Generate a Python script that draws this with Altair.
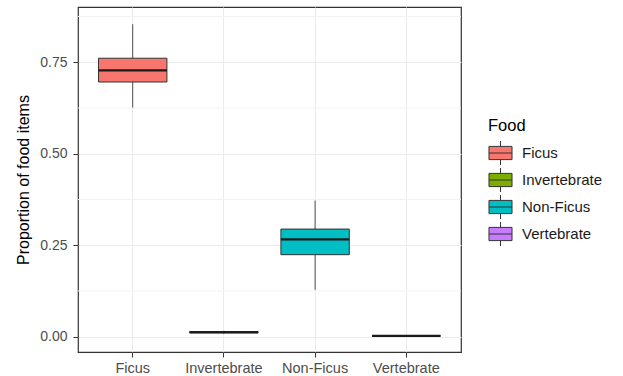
import altair as alt
import pandas as pd

# Box-plot summaries of the proportion of each food type in the diet
food = ["Ficus", "Invertebrate", "Non-Ficus", "Vertebrate"]
lower = [0.626, 0.008, 0.128, 0.002]
q1 = [0.696, 0.010, 0.224, 0.002]
median = [0.728, 0.012, 0.266, 0.002]
q3 = [0.761, 0.014, 0.294, 0.002]
upper = [0.854, 0.016, 0.372, 0.002]

fills = ["#F8766D", "#7CAE00", "#00BFC4", "#C77CFF"]
major_breaks = [0.0, 0.25, 0.5, 0.75]
minor_breaks = [0.125, 0.375, 0.625, 0.875]

df = pd.DataFrame(
    {"Food": food, "lower": lower, "q1": q1, "median": median, "q3": q3, "upper": upper}
)
minor_df = pd.DataFrame({"v": minor_breaks})

W, H = 383, 345
y_dom = [-0.042, 0.901]

x_enc = alt.X(
    "Food:N",
    sort=food,
    scale=alt.Scale(paddingInner=0, paddingOuter=0.1),
    axis=alt.Axis(
        title=None,
        labelAngle=0,
        grid=True,
        gridColor="#EBEBEB",
        gridWidth=1,
        domain=False,
        ticks=True,
        tickSize=5,
        tickColor="#333333",
        labelColor="#4D4D4D",
        labelFontSize=14.5,
        labelPadding=4,
        labelFont="Liberation Sans",
    ),
)

y_scale = alt.Scale(domain=y_dom, nice=False, zero=False)

minor = alt.Chart(minor_df).mark_rule(color="#F2F2F2", strokeWidth=1).encode(
    y=alt.Y("v:Q", scale=y_scale)
)

whisker = alt.Chart(df).mark_rule(color="#4D4D4D", strokeWidth=1).encode(
    x=x_enc,
    y=alt.Y(
        "lower:Q",
        scale=y_scale,
        title="Proportion of food items",
        axis=alt.Axis(
            values=major_breaks,
            format=".2f",
            grid=True,
            gridColor="#EBEBEB",
            gridWidth=1,
            domain=False,
            tickSize=5,
            tickColor="#333333",
            labelColor="#4D4D4D",
            labelFontSize=14,
            labelPadding=6,
            labelFont="Liberation Sans",
            titleFont="Liberation Sans",
            titleFontSize=16,
            titleFontWeight="normal",
            titleColor="#000000",
            titlePadding=8,
        ),
    ),
    y2="upper:Q",
)

legend_symbol = "M-0.96,-0.55H0.96V0.55H-0.96Z M-0.96,0H0.96 M0,-0.55V-1 M0,0.55V1"

box = alt.Chart(df).mark_bar(
    width={"band": 0.75}, stroke="#333333", strokeWidth=1
).encode(
    x=x_enc,
    y=alt.Y("q1:Q", scale=y_scale),
    y2="q3:Q",
    color=alt.Color(
        "Food:N",
        scale=alt.Scale(domain=food, range=fills),
        legend=alt.Legend(
            title="Food",
            orient="none",
            legendX=410,
            legendY=111,
            symbolType=legend_symbol,
            symbolSize=576,
            symbolStrokeColor="#333333",
            symbolStrokeWidth=1,
            symbolOpacity=1,
            rowPadding=-3,
            labelFont="Liberation Sans",
            labelFontSize=15,
            labelColor="#1A1A1A",
            labelOffset=9,
            titleFont="Liberation Sans",
            titleFontSize=16.5,
            titleFontWeight="normal",
            titleColor="#000000",
            titlePadding=6,
        ),
    ),
)

mid = alt.Chart(df).mark_tick(
    size=0.75 * W / 4.2, thickness=2.2, color="#1A1A1A", opacity=1
).encode(
    x=x_enc,
    y=alt.Y("median:Q", scale=y_scale),
)

chart = (
    alt.layer(minor, whisker, box, mid)
    .properties(
        width=W,
        height=H,
        autosize=alt.AutoSizeParams(type="none"),
        padding={"left": 78, "top": 7, "right": 162, "bottom": 24},
        background="white",
    )
    .configure_view(stroke="#333333", strokeWidth=1.2)
)

chart.save("out.html", embed_options={"renderer": "svg", "actions": False})
